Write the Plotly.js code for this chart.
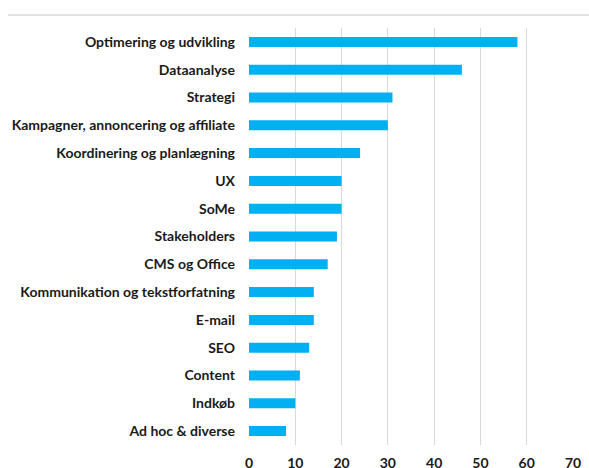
<!DOCTYPE html>
<html>
<head>
<meta charset="utf-8">
<script src="https://cdn.plot.ly/plotly-3.0.1.min.js"></script>
<style>html,body{margin:0;padding:0;background:#fff;}#chart{width:589px;height:468px;}</style>
</head>
<body>
<div id="chart"></div>
<script>
const categories = [
  "Optimering og udvikling",
  "Dataanalyse",
  "Strategi",
  "Kampagner, annoncering og affiliate",
  "Koordinering og planlægning",
  "UX",
  "SoMe",
  "Stakeholders",
  "CMS og Office",
  "Kommunikation og tekstforfatning",
  "E-mail",
  "SEO",
  "Content",
  "Indkøb",
  "Ad hoc & diverse"
];
const values = [58, 46, 31, 30, 24, 20, 20, 19, 17, 14, 14, 13, 11, 10, 8];
const xTicks = [0, 10, 20, 30, 40, 50, 60, 70];

const font = "Lato, 'Open Sans', sans-serif";
const data = [{
  type: "bar",
  orientation: "h",
  y: categories,
  x: values,
  marker: {color: "#00b0f0"},
  hoverinfo: "x+y"
}];
const layout = {
  width: 589, height: 468,
  margin: {l: 248.5, r: 16, t: 28, b: 23, pad: 0},
  paper_bgcolor: "#ffffff",
  plot_bgcolor: "#ffffff",
  showlegend: false,
  bargap: 0.64,
  font: {family: font, size: 13, color: "#1a1a1a"},
  xaxis: {
    range: [0, 70],
    tickvals: xTicks,
    ticktext: xTicks.map(String),
    showgrid: true,
    gridcolor: "#d9d9d9",
    gridwidth: 1,
    zeroline: false,
    showline: false,
    ticks: "",
    ticklabelstandoff: 8,
    tickfont: {family: font, size: 14, color: "#1a1a1a", weight: "bold"},
    fixedrange: true
  },
  yaxis: {
    type: "category",
    autorange: "reversed",
    showgrid: false,
    zeroline: false,
    showline: false,
    ticks: "",
    ticklabelstandoff: 13,
    tickfont: {family: font, size: 14, color: "#1a1a1a", weight: "bold"},
    fixedrange: true
  },
  shapes: [{
    type: "line", xref: "paper", yref: "paper",
    x0: -0.744, x1: 1.05, y0: 1.031, y1: 1.031,
    line: {color: "#d9d9d9", width: 1.5}
  }]
};
Plotly.newPlot("chart", data, layout, {displayModeBar: false, staticPlot: true});
</script>
</body>
</html>
